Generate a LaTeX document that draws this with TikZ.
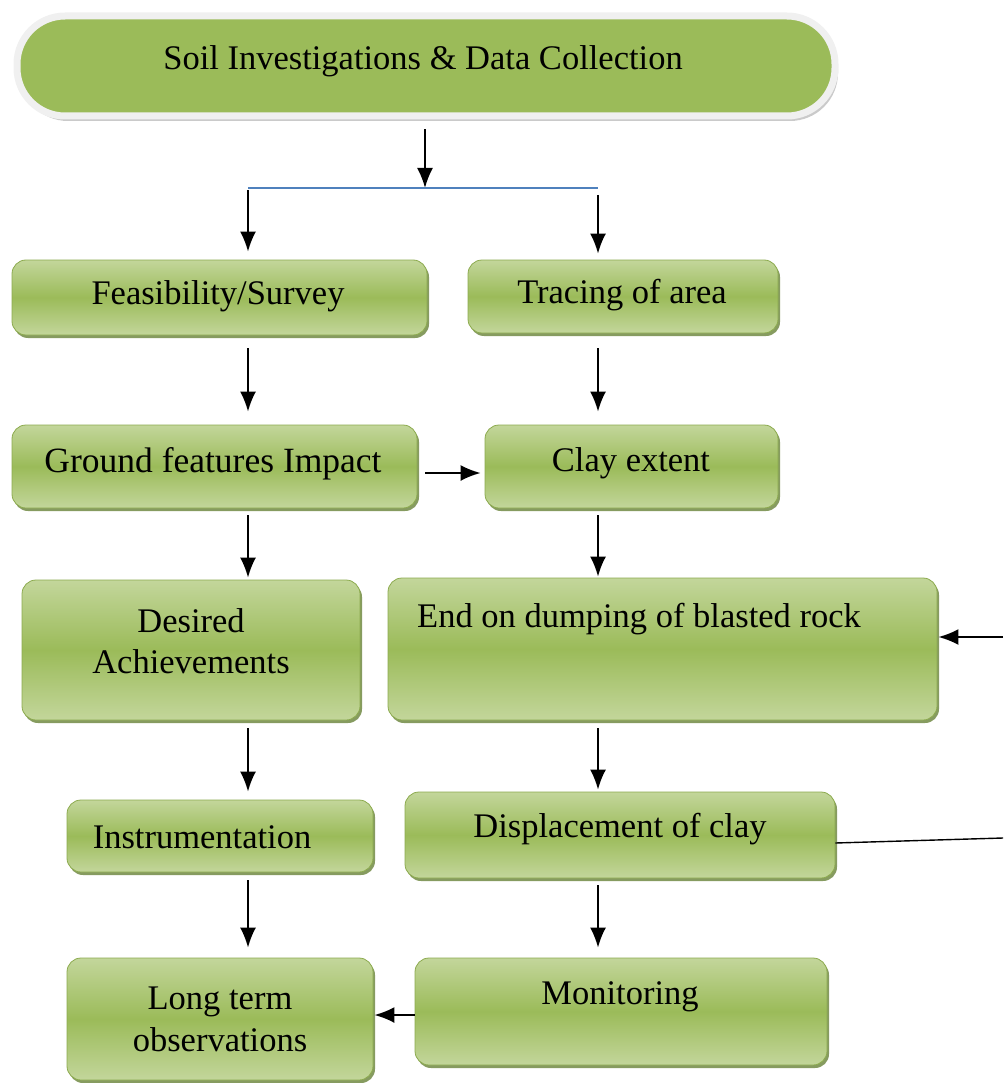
\documentclass[tikz,border=0pt]{standalone}
\usepackage{fontspec}
\setmainfont{Liberation Serif}
\usetikzlibrary{arrows.meta,shadows}
\definecolor{glight}{HTML}{C3D69B}
\definecolor{gmid}{HTML}{9BBB59}
\definecolor{gshadow}{HTML}{5E7A2B}
\definecolor{gborder}{HTML}{8CAA4E}
\definecolor{rim}{HTML}{F0F0F0}
\definecolor{blueline}{HTML}{4F81BD}
\tikzset{
  gbox/.style={rectangle, rounded corners=14pt, draw=gborder, line width=0.8pt,
    top color=glight, bottom color=glight, middle color=gmid,
    drop shadow={shadow xshift=2pt, shadow yshift=-3pt, opacity=0.75, fill=gshadow},
    inner sep=0pt},
  pill/.style={rectangle, rounded corners=48pt, fill=gmid, draw=rim, line width=7pt,
    drop shadow={shadow xshift=3pt, shadow yshift=-5pt, opacity=0.55, fill=gray!75},
    inner sep=0pt},
  txt/.style={font=\fontsize{34.5}{41}\selectfont, align=center, inner sep=0pt},
  arr/.style={-{Latex[length=20pt,width=16pt]}, line width=2pt, black},
}
\begin{document}
\begin{tikzpicture}[x=1pt,y=-1pt]
\useasboundingbox (0,0) rectangle (1003,1083);
% boxes
\node[pill, minimum width=818pt, minimum height=100pt] (top) at (426,66) {};
\node[txt] (topt) at (423,61) {Soil Investigations \& Data Collection};

\node[gbox, minimum width=415pt, minimum height=75pt] (feas) at (219.5,297.5) {};
\node[txt] (feast) at (218,296) {Feasibility/Survey};

\node[gbox, minimum width=310pt, minimum height=73pt] (trace) at (623,296.5) {};
\node[txt] (tracet) at (622,295) {Tracing of area};

\node[gbox, minimum width=405pt, minimum height=83pt] (ground) at (214.5,466.5) {};
\node[txt, font=\fontsize{35.5}{41}\selectfont] (groundt) at (213,464) {Ground features Impact};

\node[gbox, minimum width=293pt, minimum height=83pt] (clay) at (631.5,466.5) {};
\node[txt] (clayt) at (631,463) {Clay extent};

\node[gbox, minimum width=338pt, minimum height=140pt] (desired) at (191,650) {};
\node[txt] (desiredt) at (191,641) {Desired\\Achievements};

\node[gbox, minimum width=549pt, minimum height=142pt] (dump) at (662.5,649) {};
\node[txt] (dumpt) at (639,619) {End on dumping of blasted rock};

\node[gbox, minimum width=306pt, minimum height=72pt] (instr) at (220,836) {};
\node[txt] (instrt) at (202,837) {Instrumentation};

\node[gbox, minimum width=430pt, minimum height=86pt] (displ) at (620,835) {};
\node[txt] (displt) at (620,829) {Displacement of clay};

\node[gbox, minimum width=306pt, minimum height=122pt] (long) at (220,1019) {};
\node[txt, font=\fontsize{34.5}{42}\selectfont] (longt) at (220,1019) {Long term\\observations};

\node[gbox, minimum width=412pt, minimum height=107pt] (monit) at (621,1011.5) {};
\node[txt] (monitt) at (620,997) {Monitoring};

% coordinates
\coordinate (L) at (248,0);
\coordinate (R) at (598,0);
\coordinate (split) at (425,188);
\coordinate (bl) at (248,188);
\coordinate (br) at (598,188);
\coordinate (rA) at (1003,637);
\coordinate (rB) at (1003,838);

% connectors
\draw[arr] ([yshift=-10pt]top.south -| split) -- (split);
\draw[blueline, line width=1.4pt] (bl) -- (br);
\draw[arr] ([yshift=-2pt]bl) -- ([yshift=8pt]feas.north -| L);
\draw[arr] ([yshift=-7pt]br) -- ([yshift=6pt]trace.north -| R);

\draw[arr] ([yshift=-13pt]feas.south -| L) -- ([yshift=13pt]ground.north -| L);
\draw[arr] ([yshift=-15pt]trace.south -| R) -- ([yshift=13pt]clay.north -| R);

\draw[arr] ([xshift=8pt,yshift=-6.5pt]ground.east) -- ([xshift=-4pt,yshift=-6.5pt]clay.west);

\draw[arr] ([yshift=-7pt]ground.south -| L) -- ([yshift=2pt]desired.north -| L);
\draw[arr] ([yshift=-7pt]clay.south -| R) -- ([yshift=1pt]dump.north -| R);

\draw[arr] ([yshift=-8pt]desired.south -| L) -- ([yshift=8pt]instr.north -| L);
\draw[arr] ([yshift=-8pt]dump.south -| R) -- ([yshift=2pt]displ.north -| R);

\draw[arr] ([yshift=-8pt]instr.south -| L) -- ([yshift=10pt]long.north -| L);
\draw[arr] ([yshift=-7pt]displ.south -| R) -- ([yshift=10pt]monit.north -| R);

\draw[arr] (monit.west |- 0,1015) -- ([xshift=1pt]long.east |- 0,1015);

\draw[line width=1.4pt] (displ.east |- 0,843) -- (rB);
\draw[arr] (rA) -- ([xshift=1pt]dump.east |- rA);
\end{tikzpicture}
\end{document}
